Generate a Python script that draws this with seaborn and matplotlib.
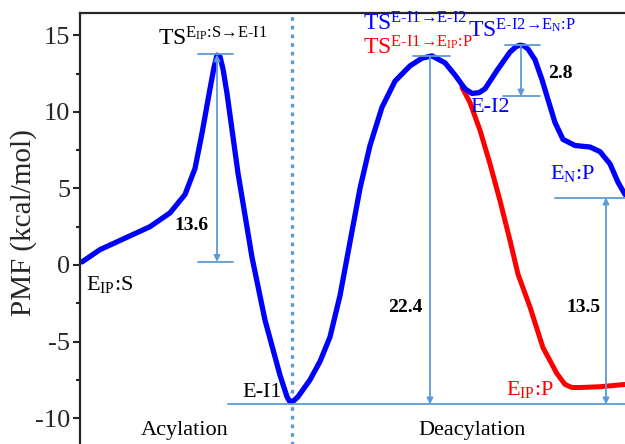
import matplotlib
matplotlib.use("Agg")
import matplotlib.pyplot as plt
import seaborn as sns
import pandas as pd
from matplotlib.ticker import MultipleLocator

# reaction coordinate (arbitrary units) and PMF (kcal/mol)
blue_x = [2, 20, 45, 70, 90, 105, 115, 122, 130, 134, 137, 140, 143, 147, 158, 172, 185, 200, 207, 210,
          214, 218, 230, 240, 250, 260, 270, 280, 290, 302, 315, 330, 342, 352, 365, 375, 385,
          392, 399, 405, 417, 430, 436, 440, 444, 448, 455, 462, 468, 475, 483, 495, 510, 520, 530, 538, 545]
blue_y = [0.2, 1.0, 1.75, 2.5, 3.4, 4.6, 6.3, 8.6, 11.5, 12.9, 13.7, 13.6, 12.8, 11.2, 6.0, 0.5, -3.6, -7.2, -8.6, -8.95,
          -8.85, -8.6, -7.5, -6.3, -4.7, -2.0, 1.5, 5.0, 7.8, 10.3, 12.0, 13.0, 13.5, 13.65, 13.2, 12.4, 11.5,
          11.2, 11.25, 11.5, 12.7, 13.9, 14.25, 14.35, 14.3, 14.1, 13.4, 12.1, 10.8, 9.3, 8.2, 7.8, 7.7, 7.4, 6.6, 5.4, 4.6]
red_x = [382, 390, 400, 410, 420, 430, 438, 450, 463, 477, 485, 492, 500, 520, 545]
red_y = [11.6, 10.6, 8.8, 6.6, 4.2, 1.6, -0.6, -2.75, -5.4, -7.1, -7.8, -8.0, -8.0, -7.95, -7.8]

barriers = ["13.6", "22.4", "2.8", "13.5"]
yticks = [-10, -5, 0, 5, 10, 15]

sns.set_style("ticks")
plt.rcParams["font.family"] = ["Liberation Serif", "DejaVu Serif"]
plt.rcParams["mathtext.fontset"] = "custom"
plt.rcParams["mathtext.rm"] = "Liberation Serif"
plt.rcParams["mathtext.it"] = "Liberation Serif:italic"
plt.rcParams["mathtext.bf"] = "Liberation Serif:bold"
plt.rcParams["axes.unicode_minus"] = False

fig = plt.figure(figsize=(6.25, 4.44), dpi=100)
ax = fig.add_axes([80 / 625, -0.028, 545 / 625, 0.9987])

LB = "#5B9BD5"

dfb = pd.DataFrame({"x": blue_x, "y": blue_y})
dfr = pd.DataFrame({"x": red_x, "y": red_y})
sns.lineplot(data=dfr, x="x", y="y", ax=ax, color="red", lw=3.6, sort=False,
             solid_joinstyle="round", solid_capstyle="round")
sns.lineplot(data=dfb, x="x", y="y", ax=ax, color="blue", lw=3.8, sort=False,
             solid_joinstyle="round", solid_capstyle="round")

# dotted divider
ax.axvline(212, color=LB, lw=2.4, ls=(0, (1.1, 1.5)), zorder=1)

# guide lines
lw = 1.3
ax.plot([118, 153], [13.75, 13.75], color=LB, lw=lw)
ax.plot([118, 153], [0.2, 0.2], color=LB, lw=lw)
ax.plot([148, 545], [-9.1, -9.1], color=LB, lw=lw)
ax.plot([333, 370], [13.65, 13.65], color=LB, lw=lw)
ax.plot([425, 460], [14.35, 14.35], color=LB, lw=lw)
ax.plot([423, 460], [11.0, 11.0], color=LB, lw=lw)
ax.plot([475, 545], [4.4, 4.4], color=LB, lw=lw)

ap2 = dict(arrowstyle="<|-|>", color=LB, lw=lw, mutation_scale=9, shrinkA=0, shrinkB=0)
ap1 = dict(arrowstyle="-|>", color=LB, lw=lw, mutation_scale=9, shrinkA=0, shrinkB=0)
ax.annotate("", xy=(137, 0.2), xytext=(137, 13.75), arrowprops=ap2)
ax.annotate("", xy=(350, -9.1), xytext=(350, 13.65), arrowprops=ap1)
ax.annotate("", xy=(441, 11.0), xytext=(441, 14.35), arrowprops=ap1)
ax.annotate("", xy=(526, 4.4), xytext=(526, -9.1), arrowprops=ap2)

# barrier values
bkw = dict(fontsize=14, fontweight="bold", ha="center", va="center", color="black")
ax.text(112, 2.6, barriers[0], **bkw)
ax.text(325, -2.8, barriers[1], **bkw)
ax.text(480, 12.5, barriers[2], **bkw)
ax.text(503, -2.8, barriers[3], **bkw)

# state labels
skw = dict(fontsize=16, ha="center", va="center")
ax.text(30, -1.3, r"E$_{\mathrm{IP}}$:S", color="black", **skw)
ax.text(182, -8.3, "E-I1", color="black", **skw)
ax.text(410, 10.3, "E-I2", color="blue", **skw)
ax.text(493, 6.0, r"E$_{\mathrm{N}}$:P", color="blue", **skw)
ax.text(450, -8.1, r"E$_{\mathrm{IP}}$:P", color="red", **skw)
ax.text(105, -10.8, "Acylation", color="black", **skw)
ax.text(392, -10.8, "Deacylation", color="black", **skw)

# transition-state labels
tkw = dict(fontsize=17, va="center")
ax.text(133, 14.75, r"TS$^{\mathrm{E_{IP}}\text{:S→E-I1}}$", color="black", ha="center", **tkw)
ax.text(283, 15.75, r"TS$^{\text{E-I1→E-I2}}$", color="blue", ha="left", **tkw)
ax.text(283, 14.15, r"TS$^{\text{E-I1→}\mathrm{E_{IP}}\text{:P}}$", color="red", ha="left", **tkw)
ax.text(388, 15.3, r"TS$^{\text{E-I2→}\mathrm{E_{N}}\text{:P}}$", color="blue", ha="left", **tkw)

ax.set_xlim(0, 545)
ax.set_ylim(-12.5, 16.45)
ax.set_yticks(yticks)
ax.yaxis.set_minor_locator(MultipleLocator(2.5))
ax.set_xticks([])
ax.set_xlabel("")
ax.set_ylabel("PMF (kcal/mol)", fontsize=21)
ax.yaxis.set_label_coords(-0.079, 0.528)
ax.tick_params(axis="y", which="major", labelsize=19, length=5, width=1.5, direction="out", pad=2)
ax.tick_params(axis="y", which="minor", length=3, width=1.5, direction="out")
for s in ["left", "top"]:
    ax.spines[s].set_linewidth(1.6)
ax.spines["right"].set_visible(False)
ax.spines["bottom"].set_visible(False)

fig.savefig("out.png", dpi=100)
